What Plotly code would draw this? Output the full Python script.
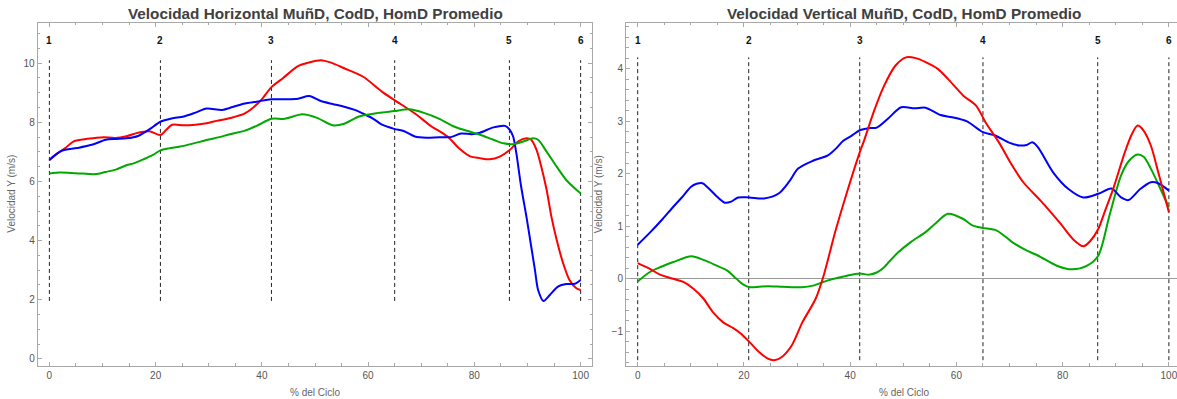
import plotly.graph_objects as go

# ---------------- data ----------------
# Event markers (percent of cycle) shared by both panels
marker_x = [0, 20.9, 41.8, 65.0, 86.6, 100]
marker_labels = ["1", "2", "3", "4", "5", "6"]

# Horizontal velocity (m/s)
h_red_x = [0, 1.5, 3, 4.5, 6.6, 8.5, 10.2, 12.4, 14.5, 16.7, 18.8, 20.9, 22, 23.1, 25.3, 27.5,
           29.6, 31.5, 33.9, 36.8, 39.7, 41.8, 44, 46.8, 48.8, 51.1, 53, 55.5, 59, 62.6, 64.9,
           68.8, 72, 73.4, 75.2, 77, 79.2, 81, 82.9, 84.8, 86.7, 88.2, 89.8, 90.7, 91.7, 92.6,
           93.6, 94.5, 95.5, 96.7, 97.9, 99.2, 100]
h_red_y = [6.73, 6.95, 7.13, 7.35, 7.43, 7.47, 7.5, 7.47, 7.53, 7.65, 7.7, 7.57, 7.75, 7.92, 7.9,
           7.92, 7.97, 8.05, 8.14, 8.3, 8.72, 9.19, 9.5, 9.9, 10.02, 10.1, 10.02, 9.83, 9.55, 9.04,
           8.76, 8.3, 7.85, 7.7, 7.48, 7.14, 6.85, 6.79, 6.75, 6.84, 7.07, 7.35, 7.46, 7.41, 7.07,
           6.5, 5.72, 4.81, 4.02, 3.24, 2.67, 2.39, 2.33]

h_blue_x = [0, 2.3, 5.2, 8, 10.6, 12.5, 14.5, 16.7, 18.8, 20.9, 23, 25.3, 27.5, 29.6, 32.5, 34.5,
            36.8, 39, 41.8, 44.3, 46.8, 48.9, 51.1, 53.3, 55.5, 57.5, 59, 61, 62.6, 64.9, 66.8,
            68.8, 71, 73.4, 75.5, 77.5, 79.5, 81.05, 83.6, 85.8, 86.7, 87.3, 87.9, 88.8, 89.8,
            90.7, 91.4, 92.0, 93.0, 94.2, 95.8, 97.3, 98.9, 100]
h_blue_y = [6.73, 7.04, 7.13, 7.24, 7.41, 7.44, 7.46, 7.54, 7.76, 8.02, 8.13, 8.2, 8.33, 8.47,
            8.42, 8.52, 8.64, 8.7, 8.78, 8.78, 8.8, 8.89, 8.72, 8.62, 8.53, 8.42, 8.3, 8.12, 7.92,
            7.78, 7.7, 7.52, 7.48, 7.5, 7.5, 7.62, 7.6, 7.65, 7.83, 7.88, 7.74, 7.52, 6.96, 5.83,
            4.81, 3.8, 3.01, 2.33, 1.96, 2.16, 2.45, 2.53, 2.54, 2.67]

h_green_x = [0, 2, 5, 8.8, 10.5, 12.5, 14.5, 16, 17.7, 19.5, 20.9, 22.5, 24.6, 27, 29.6, 32, 34,
             36.8, 39, 41.8, 44.3, 47.6, 50.4, 53.3, 55.5, 58.3, 61.9, 64.9, 67.7, 70.5, 73.4,
             76.3, 79.2, 81.05, 83.6, 85.5, 87.3, 89.2, 91.0, 92.0, 93.6, 95.5, 97.3, 99.2, 100]
h_green_y = [6.27, 6.3, 6.28, 6.25, 6.32, 6.4, 6.55, 6.62, 6.75, 6.9, 7.05, 7.12, 7.18, 7.28,
             7.4, 7.5, 7.6, 7.72, 7.88, 8.12, 8.12, 8.27, 8.15, 7.9, 7.95, 8.2, 8.32, 8.38, 8.44,
             8.32, 8.12, 7.85, 7.68, 7.58, 7.41, 7.29, 7.26, 7.35, 7.46, 7.41, 7.01, 6.5, 6.05,
             5.72, 5.6]

# Vertical velocity (m/s)
v_red_x = [0, 2.3, 4.2, 6.7, 8.6, 10.5, 12.4, 14.2, 16.1, 18.0, 19.5, 21.1, 22.9, 24.5, 25.7,
           27, 29, 31, 33.5, 35, 37.2, 39.4, 41.8, 42.5, 44.5, 46.4, 48.5, 50.5, 52.5, 54.2,
           56.5, 58.4, 61.3, 63.7, 65.5, 68, 70.5, 72.6, 76.1, 79.6, 82, 83.9, 85.2, 86.7, 88,
           89.5, 91.7, 93, 94.1, 95.2, 96.6, 98, 100]
v_red_y = [0.30, 0.19, 0.08, 0.0, -0.06, -0.19, -0.38, -0.64, -0.83, -0.94, -1.05, -1.21, -1.40,
           -1.52, -1.55, -1.5, -1.27, -0.83, -0.38, 0.06, 0.9, 1.65, 2.41, 2.6, 3.2, 3.68, 4.06,
           4.22, 4.2, 4.13, 4.0, 3.81, 3.49, 3.3, 2.98, 2.6, 2.16, 1.84, 1.46, 1.05, 0.75, 0.62,
           0.72, 0.95, 1.3, 1.71, 2.41, 2.75, 2.92, 2.83, 2.54, 2.03, 1.27]

v_blue_x = [0, 2.3, 4.7, 6.5, 8.3, 10, 11.1, 12.2, 13.2, 14.8, 16.4, 17.6, 18.9, 21, 23.8, 26.6,
            28.5, 30.2, 33, 35.8, 37.5, 38.7, 40.3, 41.8, 43.5, 45, 47.1, 49.6, 52.1, 54.2, 57,
            59.2, 62, 64.9, 67.3, 69.8, 71.9, 73.2, 74.3, 75.4, 78.2, 81.1, 83.9, 86.7, 89.2, 91,
            92.4, 94.6, 96.6, 98, 100]
v_blue_y = [0.65, 0.88, 1.14, 1.35, 1.55, 1.75, 1.81, 1.82, 1.74, 1.58, 1.45, 1.47, 1.55, 1.55,
            1.53, 1.63, 1.85, 2.1, 2.25, 2.35, 2.5, 2.63, 2.73, 2.83, 2.87, 2.88, 3.05, 3.27, 3.25,
            3.26, 3.12, 3.08, 3.0, 2.8, 2.73, 2.6, 2.54, 2.55, 2.6, 2.5, 2.03, 1.71, 1.55, 1.62,
            1.72, 1.55, 1.5, 1.71, 1.84, 1.82, 1.68]

v_green_x = [0, 2.3, 4.2, 6.7, 10.1, 12.4, 14.9, 16.8, 18.6, 19.9, 21.1, 22.9, 24.5, 27.3, 30.9,
             33, 35.8, 39.4, 41.8, 43.6, 45, 46.4, 47.1, 49, 51.4, 54.2, 56, 58.4, 61.3, 63, 64.9,
             67.6, 70.5, 73, 75.4, 78.9, 81.8, 84.6, 86.7, 88.8, 91, 92.5, 94.1, 95.3, 96.6, 98.7,
             100]
v_green_y = [-0.05, 0.13, 0.22, 0.32, 0.43, 0.36, 0.25, 0.16, 0.0, -0.11, -0.16, -0.15, -0.14,
             -0.15, -0.16, -0.13, -0.03, 0.06, 0.1, 0.08, 0.12, 0.22, 0.3, 0.5, 0.7, 0.89, 1.05,
             1.24, 1.14, 1.02, 0.97, 0.92, 0.7, 0.55, 0.44, 0.25, 0.18, 0.25, 0.44, 1.2, 1.97,
             2.25, 2.37, 2.32, 2.1, 1.65, 1.36]

# ---------------- styling ----------------
W, H = 1177, 399
RED, BLUE, GREEN = "#ff0000", "#0000ff", "#00a800"
FRAME = "#a8a8a8"
TICKFONT = dict(family="Liberation Sans, Arial", size=10, color="#555555")
FONT = "Liberation Sans, Arial"

fig = go.Figure()


def add_series(xs, ys, color, xa, ya):
    fig.add_trace(go.Scatter(x=xs, y=ys, mode="lines", xaxis=xa, yaxis=ya,
                             line=dict(color=color, width=2, shape="spline", smoothing=0.8),
                             hoverinfo="skip", showlegend=False))


def add_markers(all_y, xa, ya):
    lo, hi = min(all_y), max(all_y)
    for m, lab in zip(marker_x, marker_labels):
        fig.add_trace(go.Scatter(x=[m, m], y=[lo, hi], mode="lines", xaxis=xa, yaxis=ya,
                                 line=dict(color="#222222", width=1, dash="4px,3px"),
                                 hoverinfo="skip", showlegend=False))
        fig.add_annotation(x=m, y=0.969, xref=xa, yref=f"{ya} domain",
                           text=f"<b>{lab}</b>", showarrow=False,
                           font=dict(family=FONT, size=10, color="#111111"))


# Dashed event lines first so the curves sit on top
add_markers(h_red_y + h_blue_y + h_green_y, "x", "y")
add_markers(v_red_y + v_blue_y + v_green_y, "x2", "y2")

add_series(h_red_x, h_red_y, RED, "x", "y")
add_series(h_blue_x, h_blue_y, BLUE, "x", "y")
add_series(h_green_x, h_green_y, GREEN, "x", "y")

add_series(v_green_x, v_green_y, GREEN, "x2", "y2")
add_series(v_blue_x, v_blue_y, BLUE, "x2", "y2")
add_series(v_red_x, v_red_y, RED, "x2", "y2")

ydom = [0.0835, 0.9431]

common_x = dict(showgrid=False, zeroline=False, showline=True, linecolor=FRAME, linewidth=1,
                ticks="inside", ticklen=4, tickcolor=FRAME, tickwidth=1,
                tickvals=[0, 20, 40, 60, 80, 100], tickfont=TICKFONT,
                ticklabeloverflow="allow",
                minor=dict(dtick=5, tick0=0, ticks="inside", ticklen=2.5, tickcolor=FRAME),
                fixedrange=True)

fig.update_layout(
    width=W, height=H, margin=dict(l=0, r=0, t=0, b=0),
    paper_bgcolor="white", plot_bgcolor="white", showlegend=False,
    xaxis=dict(domain=[37.7 / W, 592.3 / W], range=[-2.2, 102.2], anchor="y",
               mirror="ticks", **common_x),
    yaxis=dict(domain=ydom, range=[-0.23, 11.37], anchor="x", showgrid=False, zeroline=False,
               showline=True, linecolor=FRAME, mirror="ticks", ticks="inside", ticklen=4,
               tickcolor=FRAME, tickvals=[0, 2, 4, 6, 8, 10], tickfont=TICKFONT,
               minor=dict(dtick=0.5, tick0=0, ticks="inside", ticklen=2.5, tickcolor=FRAME),
               fixedrange=True),
    xaxis2=dict(domain=[626 / W, 1.0], range=[-2.2, -2.2 + (W - 626) / 5.312], anchor="y2",
                mirror="ticks", **common_x),
    yaxis2=dict(domain=ydom, range=[-1.655, 4.88], anchor="x2", showgrid=False,
                zeroline=True, zerolinecolor="#9a9a9a", zerolinewidth=1,
                showline=True, linecolor=FRAME, mirror=False, ticks="inside", ticklen=4,
                tickcolor=FRAME, tickvals=[-1, 0, 1, 2, 3, 4], tickfont=TICKFONT,
                minor=dict(dtick=0.2, tick0=0, ticks="inside", ticklen=2.5, tickcolor=FRAME),
                fixedrange=True),
)

# Panel titles
for cx, txt in [(315 / W, "Velocidad Horizontal MuñD, CodD, HomD Promedio"),
                (903.5 / W, "Velocidad Vertical MuñD, CodD, HomD Promedio")]:
    fig.add_annotation(x=cx, y=(H - 13.3) / H, xref="paper", yref="paper", text=f"<b>{txt}</b>",
                       showarrow=False, xanchor="center", yanchor="middle",
                       font=dict(family=FONT, size=15.3, color="#404040"))

# Axis titles
for cx in [315 / W, 904 / W]:
    fig.add_annotation(x=cx, y=(H - 392) / H, xref="paper", yref="paper", text="% del Ciclo",
                       showarrow=False, xanchor="center", yanchor="middle",
                       font=dict(family=FONT, size=10, color="#666666"))
for cx in [11.5 / W, 598 / W]:
    fig.add_annotation(x=cx, y=(H - 194.2) / H, xref="paper", yref="paper",
                       text="Velocidad Y (m/s)", textangle=-90, showarrow=False,
                       xanchor="center", yanchor="middle",
                       font=dict(family=FONT, size=10, color="#666666"))

fig.write_html("out.html", config={"displayModeBar": False})
